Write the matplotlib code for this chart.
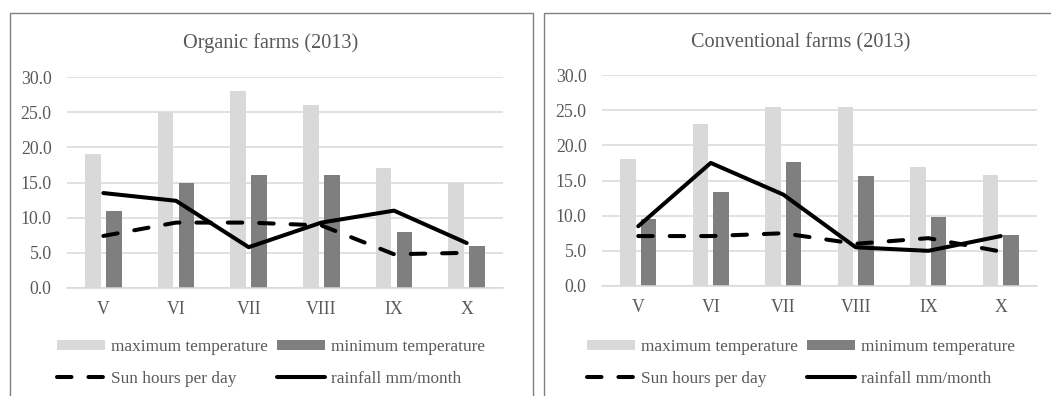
import numpy as np
import matplotlib.pyplot as plt
from matplotlib.patches import Rectangle

months = ['V', 'VI', 'VII', 'VIII', 'IX', 'X']

# Organic farms
org_max = [19.0, 25.0, 28.0, 26.0, 17.0, 15.0]
org_min = [11.0, 15.0, 16.0, 16.0, 8.0, 6.0]
org_sun = [7.4, 9.3, 9.3, 8.9, 4.8, 5.0]
org_rain = [13.5, 12.4, 5.8, 9.3, 11.0, 6.4]

# Conventional farms
con_max = [18.1, 23.0, 25.4, 25.5, 16.9, 15.8]
con_min = [9.5, 13.3, 17.6, 15.7, 9.8, 7.3]
con_sun = [7.1, 7.1, 7.5, 6.0, 6.8, 4.9]
con_rain = [8.5, 17.5, 13.0, 5.5, 5.0, 7.1]

W, H = 1051, 396
txt = '#595959'
plt.rcParams['font.family'] = ['Liberation Serif', 'DejaVu Serif']

fig = plt.figure(figsize=(W / 100, H / 100), dpi=100)


def px(x0, y_top, w, h):
    # pixel box -> figure fraction rect
    return [x0 / W, 1 - (y_top + h) / H, w / W, h / H]


def panel(rect, frame, title, title_x, vmax, vmin, sun, rain):
    ax = fig.add_axes(rect)
    x = np.arange(len(months))
    bw = 0.215
    b1 = ax.bar(x - 0.143, vmax, bw, color='#d9d9d9', zorder=2)
    b2 = ax.bar(x + 0.143, vmin, bw, color='#7f7f7f', zorder=2)
    l1, = ax.plot(x, sun, color='black', lw=2.9, dashes=(3.6, 4.2), dash_capstyle='round',
                  zorder=3)
    l2, = ax.plot(x, rain, color='black', lw=2.9, solid_capstyle='round', zorder=3)
    ax.set_xlim(-0.5, 5.5)
    ax.set_ylim(0, 30)
    ax.set_yticks(np.arange(0, 31, 5))
    ax.set_yticklabels(['%.1f' % v for v in np.arange(0, 31, 5)])
    ax.set_xticks(x)
    ax.set_xticklabels(months)
    ax.grid(axis='y', color='#d9d9d9', lw=1.1, zorder=0)
    for s in ['top', 'right', 'left']:
        ax.spines[s].set_visible(False)
    ax.spines['bottom'].set_color('#d9d9d9')
    ax.spines['bottom'].set_linewidth(1.1)
    ax.tick_params(length=0, labelsize=12.8, labelcolor=txt)
    ax.tick_params(axis='y', pad=11)
    ax.tick_params(axis='x', pad=9)

    fig.patches.append(Rectangle((frame[0] / W, -0.1), (frame[1] - frame[0]) / W,
                                 1.1 - frame[2] / H, transform=fig.transFigure,
                                 fill=False, edgecolor='#808080', lw=1.0))
    fig.text(title_x / W, 1 - 43 / H, title, ha='center', va='center',
             fontsize=14.6, color=txt)

    # column-first fill: row 1 = bars, row 2 = lines
    h = [b1, l1, b2, l2]
    l = ['maximum temperature', 'Sun hours per day',
         'minimum temperature', 'rainfall mm/month']
    fig.legend(h, l, ncol=2, loc='center', bbox_to_anchor=(title_x / W, 1 - 363 / H),
               frameon=False, fontsize=12.4, labelcolor=txt, handlelength=2.8,
               handleheight=0.45, handletextpad=0.35, columnspacing=0.5,
               labelspacing=0.9, borderpad=0)
    return ax


panel(px(67, 77, 436, 211), (10, 533, 13), 'Organic farms (2013)', 271,
      org_max, org_min, org_sun, org_rain)
panel(px(602, 75, 435, 211), (544, 1060, 13), 'Conventional farms (2013)', 801,
      con_max, con_min, con_sun, con_rain)

fig.savefig('out.png', dpi=100)
